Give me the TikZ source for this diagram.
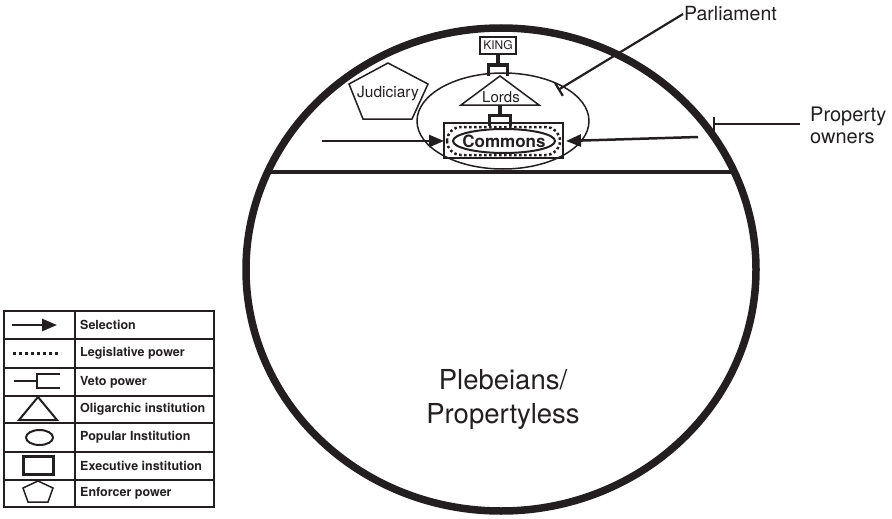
\documentclass[tikz,border=0pt]{standalone}
\usepackage{fontspec}
\setmainfont{TeX Gyre Heros}
\usepackage{xcolor}
\usepackage{tikz}
\usetikzlibrary{calc,arrows.meta,positioning,shapes.geometric}
\definecolor{inkc}{HTML}{231F20}
\tikzset{
  ln/.style={draw=inkc,line width=1.5pt},
  sel/.style={-{Triangle[length=15pt,width=12pt]},line width=2.5pt,inkc},
  veto/.style={draw=inkc,line width=3.5pt},
  ptr/.style={-{Bar[width=15pt]},line width=2.2pt,inkc},
  lbl/.style={text=inkc,inner sep=0pt},
  legtxt/.style={text=inkc,inner sep=0pt,anchor=west,font=\bfseries\fontsize{12.5}{14}\selectfont}
}
\begin{document}
\begin{tikzpicture}[x=1pt,y=-1pt]
\useasboundingbox (0,0) rectangle (892,519);
% society and the property line
\draw[inkc,line width=7.5pt] (501,269.5) ellipse [x radius=255,y radius=241.5];
\draw[inkc,line width=4.5pt] (268,172) -- (734,172);
% parliament
\draw[ln] (503,121) ellipse [x radius=86,y radius=48];
\node[lbl,draw=inkc,line width=1.8pt,minimum width=36pt,minimum height=17pt,font=\fontsize{12}{14}\selectfont] (king) at (498,45.5) {KING};
\draw[ln] (500,76) coordinate (lordsapex) -- (539,105) -- (461,105) -- cycle;
\node[lbl,anchor=base,font=\fontsize{15}{17}\selectfont] (lords) at (501,102.5) {Lords};
\draw[ln] (444,123) rectangle (563,158);
\draw[inkc,line width=2.5pt,dash pattern=on 2.5pt off 2.5pt,rounded corners=14pt] (447,127) rectangle (560,155);
\draw[inkc,line width=2pt] (504,141) ellipse [x radius=51,y radius=12];
\node[lbl,font=\bfseries\fontsize{17}{19}\selectfont] (commons) at (504,141) {Commons};
\coordinate (lordsbase) at (500,105);
% veto brackets
\draw[veto] (king.south) -- ++(0,10) coordinate (kv);
\draw[veto] ($(kv)+(-9.5,11)$) -- ++(0,-11) -- ++(19,0) -- ++(0,11);
\draw[veto] (lordsbase) -- ++(0,10.5) coordinate (lv);
\draw[veto] ($(lv)+(-10.5,10)$) -- ++(0,-10) -- ++(21,0) -- ++(0,10);
% judiciary
\draw[ln] (388,63) -- (428,84) -- (412,119) -- (363,119) -- (349,84) -- cycle;
\node[lbl,anchor=base,font=\fontsize{15.5}{17}\selectfont] (jud) at (388,97) {Judiciary};
% selection arrows
\coordinate (selL) at (322,141);
\coordinate (selR) at (698,137);
\draw[sel] (selL) -- (444,141);
\draw[sel] (selR) -- (566,141);
% labels
\node[lbl,anchor=base west,font=\fontsize{19.5}{22}\selectfont] (parl) at (684,21) {Parliament};
\draw[ptr] (parl.west) ++(-1,0) -- (558,90);
\node[lbl,anchor=north west,align=left,font=\fontsize{20}{22}\selectfont] (owners) at (810,107) {Property\\owners};
\draw[ptr] (owners.north west) ++(-10,17) -- (713,124);
\node[lbl,align=center,anchor=north,font=\fontsize{27.5}{34}\selectfont] (pleb) at (503,369) {Plebeians/\\Propertyless};
% legend
\draw[ln] (4,311) rectangle (214,507);
\draw[ln] (75,311) -- (75,507);
\foreach \y in {339,368,396,423,452,480} \draw[ln] (4,\y) -- (214,\y);
\foreach \t/\y [count=\i] in {Selection/325,Legislative power/353.5,Veto power/382,Oligarchic institution/409.5,Popular Institution/437.5,Executive institution/466,Enforcer power/493.5}
  \node[legtxt] (leg\i) at (80,\y) {\t};
\draw[sel,line width=2.5pt] (12,325) -- (57,325);
\draw[inkc,line width=3pt,dash pattern=on 3pt off 3pt] (13,353) -- (61,353);
\draw[veto,line width=2.5pt] (14,381) -- (37,381) (60,374) -- (37,374) -- (37,388) -- (60,388);
\draw[ln,line width=2pt] (38,397) -- (57,420) -- (19,420) -- cycle;
\draw[ln,line width=2pt] (39.5,437.5) ellipse [x radius=13.5,y radius=7.5];
\draw[inkc,line width=3pt] (23,456) rectangle (53,474);
\draw[ln] (38,481) -- (53,488) -- (48,502) -- (28,502) -- (23,488) -- cycle;
\end{tikzpicture}
\end{document}
